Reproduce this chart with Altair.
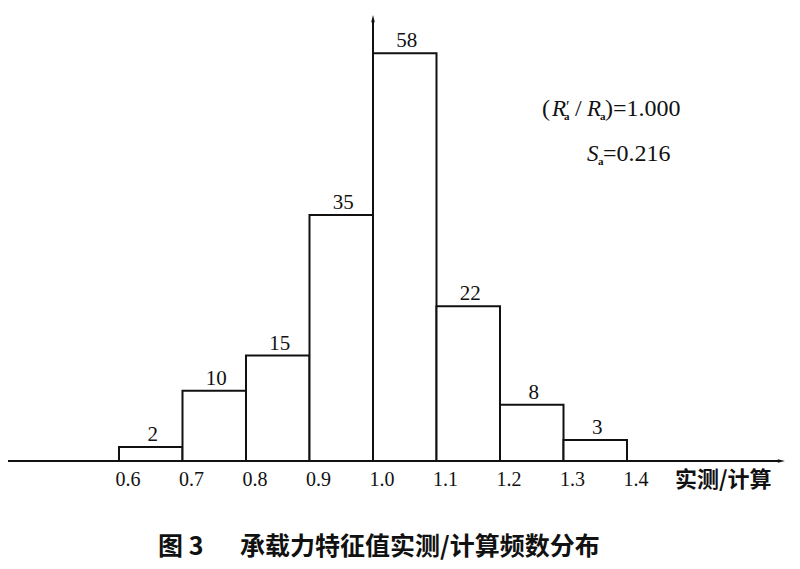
import altair as alt
import pandas as pd

# ---- data ----
bin_starts = [0.6, 0.7, 0.8, 0.9, 1.0, 1.1, 1.2, 1.3]
bin_ends = [0.7, 0.8, 0.9, 1.0, 1.1, 1.2, 1.3, 1.4]
counts = [2, 10, 15, 35, 58, 22, 8, 3]
tick_values = [0.6, 0.7, 0.8, 0.9, 1.0, 1.1, 1.2, 1.3, 1.4]
tick_labels = ["0.6", "0.7", "0.8", "0.9", "1.0", "1.1", "1.2", "1.3", "1.4"]
axis_title = "实测/计算"
caption_left = "图 3"
caption_right = "承载力特征值实测/计算频数分布"

# ---- layout (scale domains chosen so the picture fills the page) ----
W, H = 784, 553
XMIN, XMAX = 0.42520, 1.65984
YMIN, YMAX = -14.225, 64.438
X_TIP = 1.6394
Y_TIP = 62.59

xs = alt.Scale(domain=[XMIN, XMAX], nice=False, zero=False)
ys = alt.Scale(domain=[YMIN, YMAX], nice=False, zero=False)

def X(f):
    return alt.X(f, type="quantitative", scale=xs, axis=None)

def Y(f):
    return alt.Y(f, type="quantitative", scale=ys, axis=None)

bars_df = pd.DataFrame({"x": bin_starts, "x2": bin_ends, "count": counts,
                        "mid": [(a + b) / 2 for a, b in zip(bin_starts, bin_ends)],
                        "label": [str(c) for c in counts]})
ticks_df = pd.DataFrame({"x": tick_values, "label": tick_labels, "y": [0] * len(tick_values)})

axes_df = pd.DataFrame({"x": [XMIN, 1.0], "x2": [X_TIP, 1.0], "y": [0, 0], "y2": [0, Y_TIP]})

black = "#111111"
serif = "Liberation Serif"
cjk = "Noto Sans CJK SC"

bars = alt.Chart(bars_df).mark_rect(fill="white", stroke=black, strokeWidth=2).encode(
    x=X("x"), x2="x2", y=Y("count"), y2=alt.datum(0)
)
bar_labels = alt.Chart(bars_df).mark_text(
    font=serif, fontSize=21, baseline="bottom", dx=2, dy=-2, color=black
).encode(x=X("mid"), y=Y("count"), text="label")

axes = alt.Chart(axes_df).mark_rule(color=black, strokeWidth=2).encode(
    x=X("x"), x2="x2", y=Y("y"), y2="y2"
)

arrow_h = alt.Chart(pd.DataFrame({"x": [X_TIP], "y": [0]})).mark_point(
    shape="M1,0L-0.2,0.3L-0.2,-0.3Z", filled=True, color=black, size=144, opacity=1
).encode(x=X("x"), y=Y("y"))
arrow_v = alt.Chart(pd.DataFrame({"x": [1.0], "y": [Y_TIP]})).mark_point(
    shape="M0,-1L0.3,0.2L-0.3,0.2Z", filled=True, color=black, size=144, opacity=1
).encode(x=X("x"), y=Y("y"))

tick_text = alt.Chart(ticks_df).mark_text(
    font=serif, fontSize=20, baseline="middle", dx=9, dy=19, color=black
).encode(x=X("x"), y=Y("y"), text="label")

title_text = alt.Chart(pd.DataFrame({"x": [1.4756], "y": [-2.7], "t": [axis_title]})).mark_text(
    font=cjk, fontSize=22, fontWeight="bold", align="left", baseline="middle", color=black
).encode(x=X("x"), y=Y("y"), text="t")

caption = alt.Chart(pd.DataFrame({"x": [0.6614, 0.7906], "y": [-12.2, -12.2],
                                  "t": [caption_left, caption_right]})).mark_text(
    font=cjk, fontSize=25, fontWeight="bold", align="left", baseline="middle", color=black
).encode(x=X("x"), y=Y("y"), text="t")

# annotation "(R'a / Ra)=1.000" and "Sa=0.216"
ann_normal = pd.DataFrame({
    "x": [1.2661, 1.3181, 1.3654, 1.3622],
    "y": [49.08, 49.08, 49.08, 42.67],
    "t": ["(", "/", ")=1.000", "=0.216"],
})
ann_italic = pd.DataFrame({
    "x": [1.2819, 1.3370, 1.3370],
    "y": [49.08, 49.08, 42.67],
    "t": ["R", "R", "S"],
})
ann_prime = pd.DataFrame({"x": [1.3040], "y": [49.6], "t": ["′"]})
ann_sub = pd.DataFrame({
    "x": [1.3008, 1.3575, 1.3543],
    "y": [48.51, 48.51, 42.10],
    "t": ["a", "a", "a"],
})

a1 = alt.Chart(ann_normal).mark_text(font=serif, fontSize=24, align="left",
                                     baseline="alphabetic", color=black).encode(
    x=X("x"), y=Y("y"), text="t")
a2 = alt.Chart(ann_italic).mark_text(font=serif, fontSize=23, fontStyle="italic", align="left",
                                     baseline="alphabetic", color=black).encode(
    x=X("x"), y=Y("y"), text="t")
a3 = alt.Chart(ann_prime).mark_text(font=serif, fontSize=16, align="left",
                                    baseline="alphabetic", color=black).encode(
    x=X("x"), y=Y("y"), text="t")
a4 = alt.Chart(ann_sub).mark_text(font=serif, fontSize=11, fontWeight="bold", align="left",
                                  baseline="alphabetic", color=black).encode(
    x=X("x"), y=Y("y"), text="t")

chart = alt.layer(
    bars, axes, arrow_h, arrow_v, bar_labels, tick_text, title_text, caption, a1, a2, a3, a4
).properties(
    width=W, height=H, autosize=alt.AutoSizeParams(type="none"), padding=0,
    background="white"
).configure_view(stroke=None)

chart.save("out.html", embed_options={"renderer": "svg", "actions": False})
